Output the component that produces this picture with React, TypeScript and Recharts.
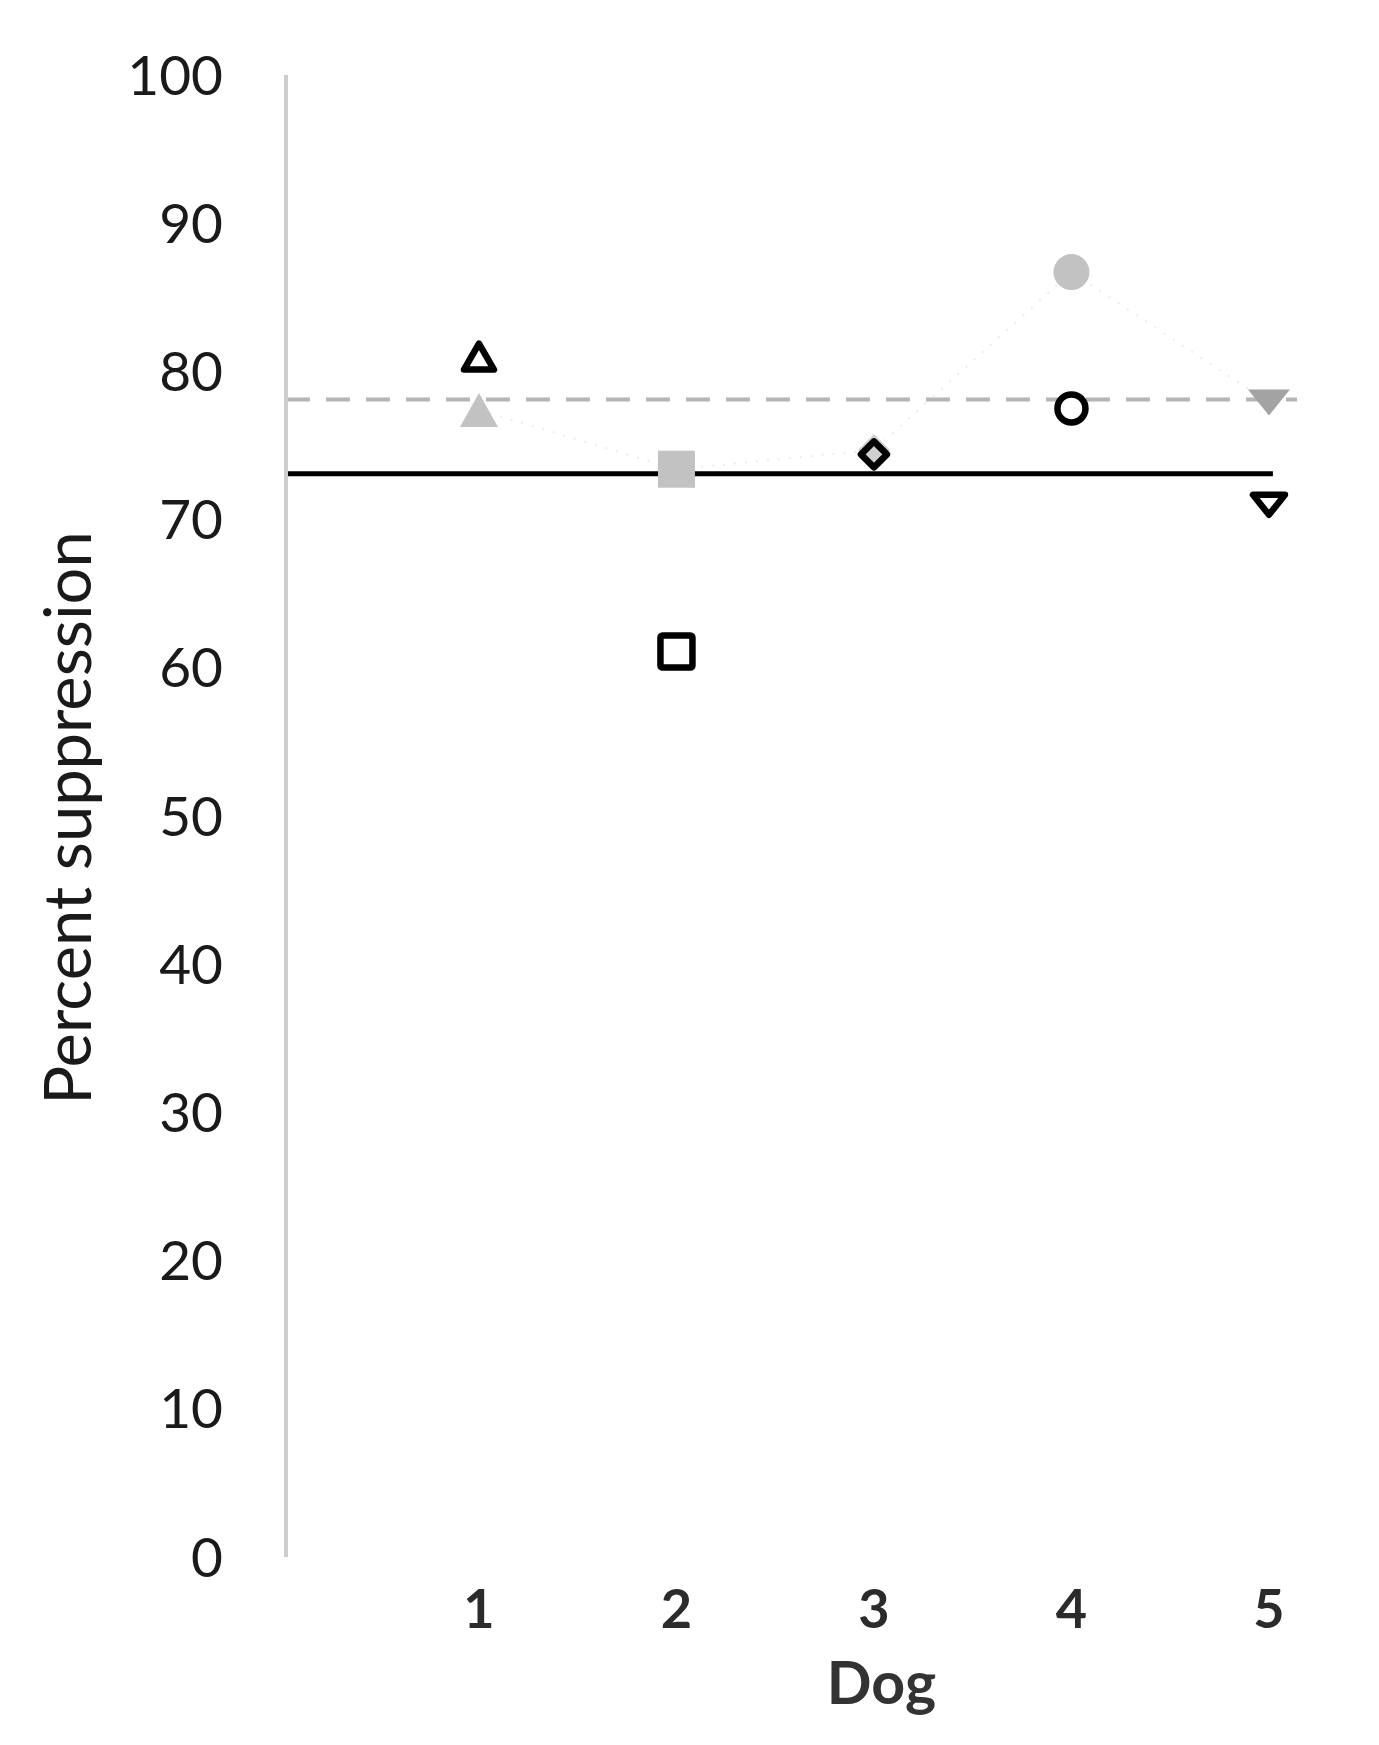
import { ScatterChart, Scatter, XAxis, YAxis, ReferenceLine, Label } from "recharts";

// values
const dogs = [1, 2, 3, 4, 5];
const grayValues = [77.4, 73.4, 74.7, 86.7, 77.9];
const blackValues = [81.0, 61.1, 74.4, 77.5, 71.0];
const markerKinds = ["up", "square", "diamond", "circle", "down"];
const yTicks = [0, 10, 20, 30, 40, 50, 60, 70, 80, 90, 100];
const grayMean = 78.1;
const blackMean = 73.1;

const grayData = dogs.map((d, i) => ({ x: d, y: grayValues[i], kind: markerKinds[i], idx: i }));
const blackData = dogs.map((d, i) => ({ x: d, y: blackValues[i], kind: markerKinds[i], idx: i }));

const X_MIN = 0.023;
const X_MAX = 5.142;
const FONT = "Lato, 'Open Sans', sans-serif";

function Marker({ cx, cy, kind, gray, dark }: any) {
  if (cx == null || cy == null) return null;
  const fill = gray ? (dark ? "#a3a3a3" : "#c2c2c2") : "#fff";
  const stroke = gray ? "none" : "#000";
  const sw = gray ? 0 : 6.5;
  if (kind === "up") {
    const w = gray ? 19 : 15;
    const h = gray ? 17 : 13;
    return <path d={`M${cx},${cy - h} L${cx + w},${cy + h} L${cx - w},${cy + h} Z`} fill={fill} stroke={stroke} strokeWidth={sw} strokeLinejoin="round" />;
  }
  if (kind === "down") {
    const w = gray ? 21 : 16;
    const h = gray ? 13 : 10;
    return <path d={`M${cx - w},${cy - h} L${cx + w},${cy - h} L${cx},${cy + h} Z`} fill={fill} stroke={stroke} strokeWidth={sw} strokeLinejoin="round" />;
  }
  if (kind === "square") {
    const s = gray ? 18.5 : 16;
    return <rect x={cx - s} y={cy - s} width={2 * s} height={2 * s} rx={gray ? 0 : 2} fill={fill} stroke={stroke} strokeWidth={sw} />;
  }
  if (kind === "diamond") {
    const r = gray ? 16 : 13;
    return <path d={`M${cx},${cy - r} L${cx + r},${cy} L${cx},${cy + r} L${cx - r},${cy} Z`} fill={gray ? "#d0d0d0" : "none"} stroke={stroke} strokeWidth={sw} strokeLinejoin="round" />;
  }
  const r = gray ? 18 : 14;
  return <circle cx={cx} cy={cy} r={r} fill={fill} stroke={stroke} strokeWidth={sw} />;
}

export default function App() {
  return (
    <div style={{ position: "absolute", left: 0, top: 0, width: 1379, height: 1745, background: "#fff", fontFamily: FONT }}>
      <ScatterChart width={1379} height={1745} margin={{ top: 75, right: 82, bottom: 48, left: 166 }}>
        <XAxis
          type="number"
          dataKey="x"
          domain={[X_MIN, X_MAX]}
          ticks={dogs}
          allowDataOverflow
          axisLine={false}
          tickLine={false}
          tickSize={0}
          tickMargin={33}
          height={140}
          tick={{ fontSize: 54, fontWeight: 700, fill: "#2b2b2b", fontFamily: FONT }}
        >
          <Label
            content={(props: any) => {
              const vb = props.viewBox;
              return (
                <text x={vb.x + vb.width / 2 + 90} y={vb.y + 147} textAnchor="middle" fontSize={59} fontWeight={700} fill="#333" fontFamily={FONT}>
                  Dog
                </text>
              );
            }}
          />
        </XAxis>
        <YAxis
          type="number"
          dataKey="y"
          domain={[0, 100]}
          ticks={yTicks}
          width={120}
          axisLine={{ stroke: "#cdcdcd", strokeWidth: 4 }}
          tickLine={false}
          tickSize={0}
          tickMargin={63}
          tick={{ fontSize: 55, fill: "#1a1a1a", fontFamily: FONT }}
        >
          <Label
            content={() => (
              <text x={66} y={818} transform="rotate(-90 66 818)" textAnchor="middle" dominantBaseline="central" fontSize={65} fill="#1a1a1a" fontFamily={FONT}>
                Percent suppression
              </text>
            )}
          />
        </YAxis>
        <ReferenceLine y={grayMean} stroke="#b5b5b5" strokeWidth={4} strokeDasharray="24 16" />
        <ReferenceLine
          segment={[{ x: X_MIN, y: blackMean }, { x: 5.02, y: blackMean }]}
          stroke="#000"
          strokeWidth={5}
        />
        <Scatter
          data={grayData}
          isAnimationActive={false}
          line={{ stroke: "#ececec", strokeWidth: 2, strokeDasharray: "2 9" }}
          shape={(p: any) => <Marker cx={p.cx} cy={p.cy} kind={p.payload.kind} gray dark={p.payload.idx === 4} />}
        />
        <Scatter
          data={blackData}
          isAnimationActive={false}
          shape={(p: any) => <Marker cx={p.cx} cy={p.cy} kind={p.payload.kind} />}
        />
      </ScatterChart>
    </div>
  );
}
